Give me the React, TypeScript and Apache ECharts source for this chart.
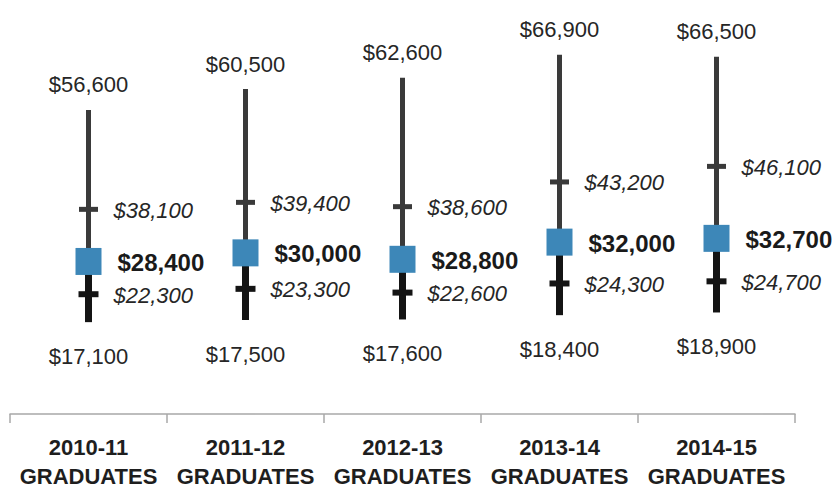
import React, { useEffect, useRef } from "react";
import * as echarts from "echarts";

const categories = [
  "2010-11\nGRADUATES",
  "2011-12\nGRADUATES",
  "2012-13\nGRADUATES",
  "2013-14\nGRADUATES",
  "2014-15\nGRADUATES",
];
const maxValues = [56600, 60500, 62600, 66900, 66500];
const p75Values = [38100, 39400, 38600, 43200, 46100];
const medianValues = [28400, 30000, 28800, 32000, 32700];
const p25Values = [22300, 23300, 22600, 24300, 24700];
const minValues = [17100, 17500, 17600, 18400, 18900];

const fmt = (v: number) => "$" + v.toLocaleString("en-US");
const FONT = '"Liberation Sans", Arial, sans-serif';

export default function App() {
  const ref = useRef<HTMLDivElement>(null);
  useEffect(() => {
    if (!ref.current) return;
    const chart = echarts.init(ref.current, null, { renderer: "svg" });
    const data = categories.map((_, i) => [
      i,
      maxValues[i],
      p75Values[i],
      medianValues[i],
      p25Values[i],
      minValues[i],
    ]);
    chart.setOption({
      animation: false,
      backgroundColor: "#ffffff",
      grid: { left: 10, right: 39, top: 38, bottom: 76 },
      xAxis: {
        type: "category",
        data: categories,
        boundaryGap: true,
        axisLine: { lineStyle: { color: "#a8a8a8", width: 1.5 } },
        axisTick: { show: true, length: 9, lineStyle: { color: "#a8a8a8", width: 1.5 } },
        axisLabel: {
          interval: 0,
          margin: 19,
          fontFamily: FONT,
          fontWeight: "bold",
          fontSize: 22,
          lineHeight: 29,
          color: "#1e1e1e",
        },
      },
      yAxis: {
        type: "value",
        min: 0,
        max: 70000,
        show: false,
        splitLine: { show: false },
      },
      series: [
        {
          type: "custom",
          data,
          encode: { x: 0, y: [1, 2, 3, 4, 5] },
          renderItem: (params: any, api: any) => {
            const i = api.value(0);
            const vMax = api.value(1);
            const v75 = api.value(2);
            const vMed = api.value(3);
            const v25 = api.value(4);
            const vMin = api.value(5);
            const [x, yMax] = api.coord([i, vMax]);
            const y75 = api.coord([i, v75])[1];
            const yMed = api.coord([i, vMed])[1];
            const y25 = api.coord([i, v25])[1];
            const yMin = api.coord([i, vMin])[1];
            const gray = "#3a3a3a";
            const black = "#141414";
            const txt = "#262626";
            return {
              type: "group",
              children: [
                { type: "line", shape: { x1: x, y1: yMax, x2: x, y2: yMed }, style: { stroke: gray, lineWidth: 5 } },
                { type: "line", shape: { x1: x, y1: yMed, x2: x, y2: yMin }, style: { stroke: black, lineWidth: 7 } },
                { type: "line", shape: { x1: x - 9.5, y1: y75, x2: x + 9.5, y2: y75 }, style: { stroke: gray, lineWidth: 5 } },
                { type: "line", shape: { x1: x - 10, y1: y25, x2: x + 10, y2: y25 }, style: { stroke: black, lineWidth: 6 } },
                { type: "rect", shape: { x: x - 13, y: yMed - 13.5, width: 26, height: 27 }, style: { fill: "#3d87b8" } },
                {
                  type: "text", x, y: yMax - 25,
                  style: { text: fmt(vMax), fontFamily: FONT, fontSize: 22, fill: txt, align: "center", verticalAlign: "middle" },
                },
                {
                  type: "text", x, y: yMin + 34,
                  style: { text: fmt(vMin), fontFamily: FONT, fontSize: 22, fill: txt, align: "center", verticalAlign: "middle" },
                },
                {
                  type: "text", x: x + 25, y: y75 + 1,
                  style: { text: fmt(v75), fontFamily: FONT, fontSize: 22, fontStyle: "italic", fill: txt, align: "left", verticalAlign: "middle" },
                },
                {
                  type: "text", x: x + 29, y: yMed + 1,
                  style: { text: fmt(vMed), fontFamily: FONT, fontSize: 24, fontWeight: "bold", fill: "#1a1a1a", align: "left", verticalAlign: "middle" },
                },
                {
                  type: "text", x: x + 25, y: y25 + 1,
                  style: { text: fmt(v25), fontFamily: FONT, fontSize: 22, fontStyle: "italic", fill: txt, align: "left", verticalAlign: "middle" },
                },
              ],
            };
          },
        },
      ],
    });
    return () => chart.dispose();
  }, []);
  return <div ref={ref} style={{ width: 834, height: 491, position: "absolute", left: 0, top: 0 }} />;
}
